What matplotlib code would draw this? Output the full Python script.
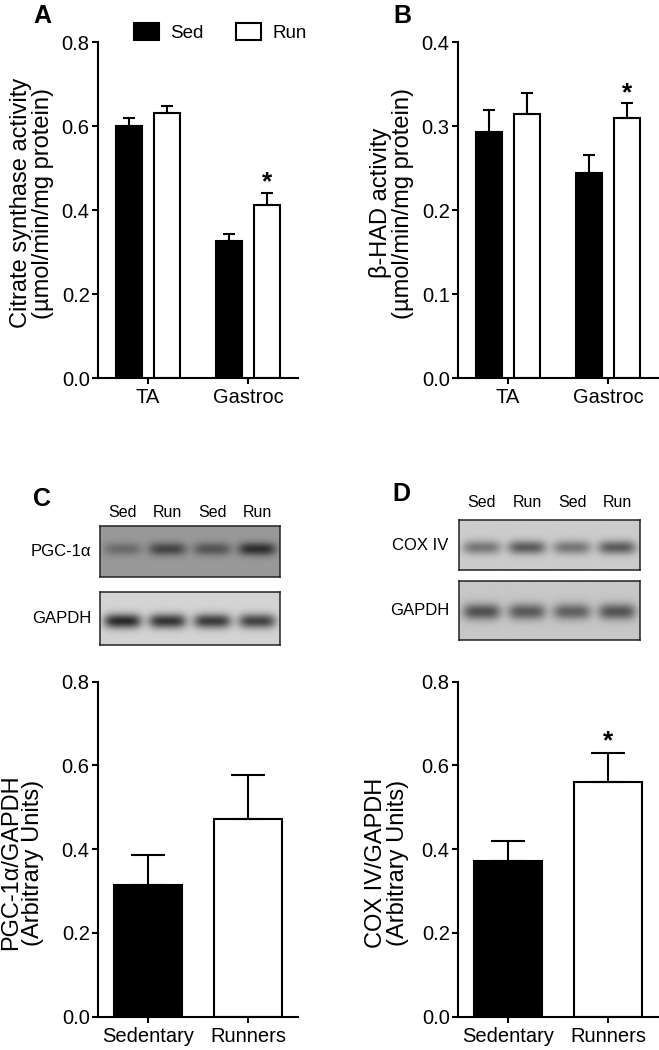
import numpy as np
import matplotlib
matplotlib.use('Agg')
import matplotlib.pyplot as plt

plt.rcParams['font.family'] = ['Liberation Sans', 'DejaVu Sans']

# ---- data ----
muscles = ['TA', 'Gastroc']
cs_sed = [0.600, 0.326]
cs_sed_err = [0.018, 0.018]
cs_run = [0.631, 0.411]
cs_run_err = [0.017, 0.030]

had_sed = [0.293, 0.244]
had_sed_err = [0.026, 0.021]
had_run = [0.314, 0.310]
had_run_err = [0.025, 0.017]

groups = ['Sedentary', 'Runners']
pgc = [0.314, 0.471]
pgc_err = [0.071, 0.107]
cox = [0.371, 0.560]
cox_err = [0.048, 0.070]

lanes = ['Sed', 'Run', 'Sed', 'Run']
# band darkness per lane (0 = none, 1 = black)
pgc_bands = [0.30, 0.55, 0.45, 0.70]
gapdh_c_bands = [0.80, 0.75, 0.72, 0.68]
cox_bands = [0.42, 0.55, 0.42, 0.55]
gapdh_d_bands = [0.60, 0.55, 0.52, 0.58]

fig = plt.figure(figsize=(6.59, 10.5), dpi=100)


def style_axes(ax, ymax, step):
    for s in ['top', 'right']:
        ax.spines[s].set_visible(False)
    for s in ['left', 'bottom']:
        ax.spines[s].set_linewidth(1.5)
    ax.set_ylim(0, ymax)
    ax.set_yticks(np.arange(0, ymax + step / 2, step))
    ax.yaxis.set_major_formatter(plt.FormatStrFormatter('%.1f'))
    ax.tick_params(width=1.5, length=4, labelsize=14.5)
    ax.tick_params(axis='y', pad=2)


def grouped_panel(ax, sed, sed_err, run, run_err, ymax, step, ylabel, star_idx):
    x = np.arange(len(muscles))
    off, w = 0.19, 0.26
    b1 = ax.bar(x - off, sed, w, color='black', edgecolor='black', linewidth=1.5, label='Sed')
    b2 = ax.bar(x + off, run, w, color='white', edgecolor='black', linewidth=1.5, label='Run')
    ax.errorbar(x - off, sed, yerr=[np.zeros(len(sed)), sed_err], fmt='none', ecolor='black',
                elinewidth=1.5, capsize=4.5, capthick=1.5)
    ax.errorbar(x + off, run, yerr=[np.zeros(len(run)), run_err], fmt='none', ecolor='black',
                elinewidth=1.5, capsize=4.5, capthick=1.5)
    ax.set_xlim(-0.5, 1.5)
    ax.set_xticks(x)
    ax.set_xticklabels(muscles)
    style_axes(ax, ymax, step)
    ax.set_ylabel(ylabel, fontsize=17, linespacing=1.0)
    ax.yaxis.set_label_coords(-0.22, 0.52)
    i = star_idx
    ax.annotate('*', xy=(x[i] + off, run[i] + run_err[i]), xytext=(0, 7.5),
                textcoords='offset points', ha='center', va='center', fontsize=19, weight='bold')
    return b1, b2


def single_panel(ax, vals, errs, ylabel, star, label_x):
    x = np.arange(len(groups))
    ax.bar(x, vals, 0.68, color=['black', 'white'], edgecolor='black', linewidth=1.5)
    ax.errorbar(x, vals, yerr=[np.zeros(len(vals)), errs], fmt='none', ecolor='black',
                elinewidth=1.5, capsize=12.5, capthick=1.5)
    ax.set_xlim(-0.5, 1.5)
    ax.set_xticks(x)
    ax.set_xticklabels(groups)
    style_axes(ax, 0.8, 0.2)
    ax.set_ylabel(ylabel, fontsize=17, linespacing=1.0)
    ax.yaxis.set_label_coords(label_x, 0.46)
    if star:
        ax.annotate('*', xy=(1, vals[1] + errs[1]), xytext=(0, 8),
                    textcoords='offset points', ha='center', va='center', fontsize=19, weight='bold')


def blot(rect, bands, bg, band_y, band_h, row_label, show_lanes, lane_pad):
    ax = fig.add_axes(rect)
    W, H = 240, 60
    xx = np.linspace(0, 4, W)
    yy = np.linspace(0, 1, H)
    X, Y = np.meshgrid(xx, yy)
    img = np.full((H, W), bg)
    for k, d in enumerate(bands):
        prof = np.exp(-np.abs((X - (k + 0.5)) / 0.42) ** 4) * np.exp(-((Y - band_y) / band_h) ** 2)
        img -= d * bg * prof
    ax.imshow(img, cmap='gray', vmin=0, vmax=1, extent=[0, 4, 1, 0], aspect='auto',
              interpolation='bilinear')
    ax.set_xlim(0, 4)
    ax.set_ylim(1, 0)
    ax.set_yticks([])
    for s in ax.spines.values():
        s.set_linewidth(1.1)
        s.set_color('#222222')
    if show_lanes:
        ax.xaxis.tick_top()
        ax.set_xticks(np.arange(len(lanes)) + 0.5)
        ax.set_xticklabels(lanes, fontsize=11.5)
        ax.tick_params(axis='x', length=0, pad=lane_pad)
    else:
        ax.set_xticks([])
    ax.text(-0.215, 0.5, row_label, transform=ax.transAxes, ha='center', va='center', fontsize=12)
    return ax


# ---- panel A ----
axA = fig.add_axes([98 / 659, 1 - 378 / 1050, 200 / 659, 336 / 1050])
h1, h2 = grouped_panel(axA, cs_sed, cs_sed_err, cs_run, cs_run_err, 0.8, 0.2,
                       'Citrate synthase activity\n(\u00b5mol/min/mg protein)', 1)
axA.legend([h1, h2], ['Sed', 'Run'], loc='lower left', bbox_to_anchor=(0.18, 1.0), ncol=2,
           frameon=False, fontsize=13.5, handlelength=1.35, handleheight=0.95,
           handletextpad=0.6, columnspacing=1.7, borderaxespad=0, borderpad=0)

# ---- panel B ----
axB = fig.add_axes([458 / 659, 1 - 378 / 1050, 200 / 659, 336 / 1050])
grouped_panel(axB, had_sed, had_sed_err, had_run, had_run_err, 0.4, 0.1,
              '\u03b2-HAD activity\n(\u00b5mol/min/mg protein)', 1)

# ---- panel C ----
blot([100 / 659, 1 - 577 / 1050, 180 / 659, 51 / 1050], pgc_bands, 0.60, 0.45, 0.13,
     'PGC-1\u03b1', True, 4)
blot([100 / 659, 1 - 645 / 1050, 180 / 659, 53 / 1050], gapdh_c_bands, 0.83, 0.55, 0.14,
     'GAPDH', False, 0)
axC = fig.add_axes([98 / 659, 1 - 1016.7 / 1050, 200 / 659, 335 / 1050])
single_panel(axC, pgc, pgc_err, 'PGC-1\u03b1/GAPDH\n(Arbitrary Units)', False, -0.27)

# ---- panel D ----
blot([459 / 659, 1 - 570 / 1050, 181 / 659, 50 / 1050], cox_bands, 0.80, 0.55, 0.14,
     'COX IV', True, 7)
blot([459 / 659, 1 - 640 / 1050, 181 / 659, 59 / 1050], gapdh_d_bands, 0.78, 0.52, 0.14,
     'GAPDH', False, 0)
axD = fig.add_axes([458 / 659, 1 - 1016.7 / 1050, 200 / 659, 335 / 1050])
single_panel(axD, cox, cox_err, 'COX IV/GAPDH\n(Arbitrary Units)', True, -0.245)

# ---- panel letters ----
for lab, px, py in [('A', 33, 4), ('B', 393, 4), ('C', 33, 487), ('D', 392, 482)]:
    fig.text(px / 659, 1 - py / 1050, lab, fontsize=18, weight='bold', ha='left', va='top')

fig.savefig('out.png', dpi=100)
